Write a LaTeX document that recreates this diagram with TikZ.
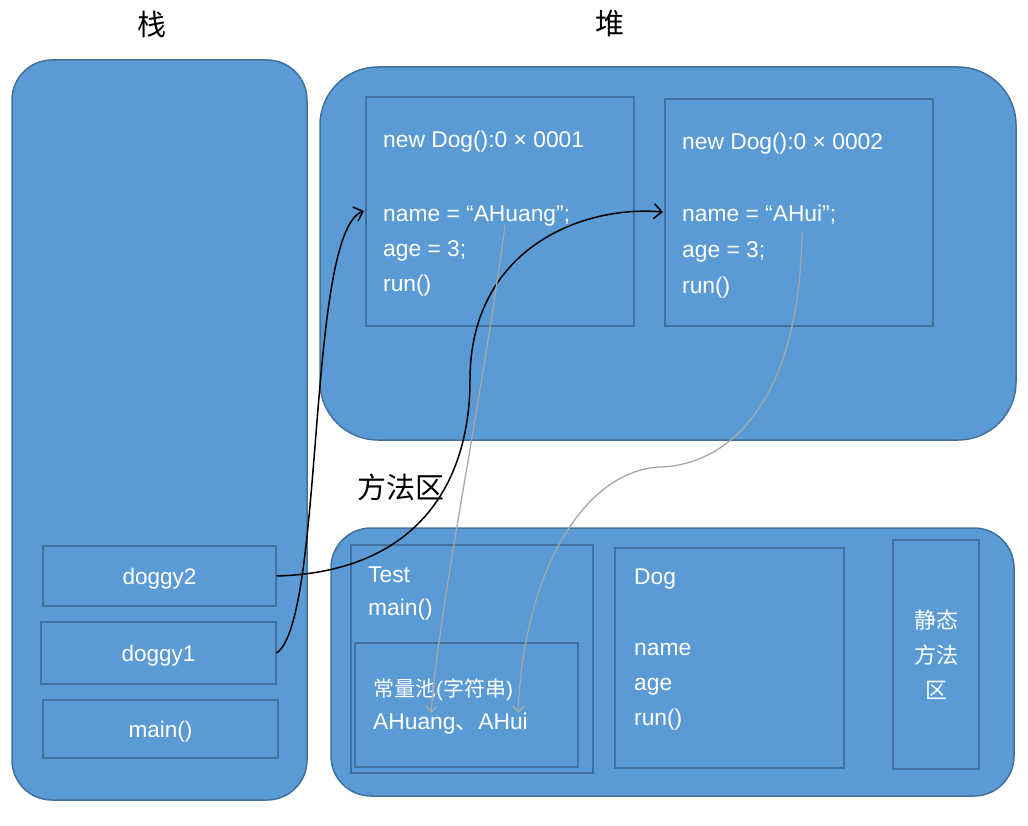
\documentclass[tikz,border=0pt]{standalone}
\usepackage{fontspec}
\setmainfont{Liberation Sans}
\newfontfamily\cjk{Noto Sans CJK SC}
\usetikzlibrary{arrows.meta}
\definecolor{boxblue}{HTML}{5B9BD5}
\definecolor{edgeblue}{HTML}{41719C}
\definecolor{strgray}{HTML}{A6A6A6}
\tikzset{
  region/.style={fill=boxblue, draw=edgeblue, line width=1.5pt, inner sep=0pt},
  cell/.style={fill=boxblue, draw=edgeblue, line width=1.2pt, inner sep=0pt, text=white,
    text depth=0pt, font=\fontsize{22.5}{27}\selectfont},
  txt/.style={text=white, font=\fontsize{22.8}{27}\selectfont, anchor=base west, inner sep=0pt},
  cjktxt/.style={text=white, font=\cjk\fontsize{21}{27}\selectfont, anchor=base west, inner sep=0pt},
  title/.style={text=black, font=\cjk\fontsize{29}{32}\selectfont, inner sep=0pt},
  objref/.style={black, line width=1.5pt, -{Straight Barb[length=8pt,width=15pt,line width=1.5pt]}},
  strref/.style={strgray, line width=1.3pt, -{Straight Barb[length=6pt,width=11pt,line width=1.3pt]}},
}
\begin{document}
\begin{tikzpicture}[x=1pt,y=-1pt]
\useasboundingbox (0,0) rectangle (1028,826);
% titles
\node[title] (tstack) at (152,24) {栈};
\node[title] (theap) at (610,24) {堆};
\node[title] (tmeth) at (401,487) {方法区};
% regions
\node[region, rounded corners=40pt, minimum width=295pt, minimum height=740pt] (stack) at (159.5,430) {};
\node[region, rounded corners=58pt, minimum width=696pt, minimum height=373pt] (heap) at (668,253.5) {};
\node[region, rounded corners=40pt, minimum width=683pt, minimum height=268pt] (meth) at (672.5,662) {};
% stack cells
\node[cell, minimum width=233pt, minimum height=60pt] (doggy2) at (159.5,576) {doggy2};
\node[cell, minimum width=235pt, minimum height=62pt] (doggy1) at (158.5,653) {doggy1};
\node[cell, minimum width=235pt, minimum height=58pt] (mainc) at (160.5,729) {main()};
% heap objects
\node[cell, minimum width=268pt, minimum height=229pt] (obj1) at (500,211.5) {};
\node[cell, minimum width=268pt, minimum height=227pt] (obj2) at (799,212.5) {};
\node[txt] (o1a) at (383,148) {new Dog():0 × 0001};
\node[txt] (o1b) at (383,222) {name = “AHuang”;};
\node[txt] (o1c) at (383,257) {age = 3;};
\node[txt] (o1d) at (383,292) {run()};
\node[txt] (o2a) at (682,150) {new Dog():0 × 0002};
\node[txt] (o2b) at (682,222) {name = “AHui”;};
\node[txt] (o2c) at (682,258) {age = 3;};
\node[txt] (o2d) at (682,294) {run()};
% method area
\node[cell, minimum width=242pt, minimum height=228pt] (test) at (472,659) {};
\node[cell, minimum width=223pt, minimum height=124pt] (pool) at (466.5,705) {};
\node[cell, minimum width=229pt, minimum height=220pt] (dog) at (729.5,658) {};
\node[cell, minimum width=86pt, minimum height=229pt] (static) at (936,654.5) {};
\node[txt] (ta) at (368,582) {Test};
\node[txt] (tb) at (368,615) {main()};
\node[cjktxt] (pa) at (373,696) {常量池{\fontspec{Liberation Sans}(}字符串{\fontspec{Liberation Sans})}};
\node[txt] (pb) at (373,729) {AHuang{\cjk 、}AHui};
\node[txt] (da) at (634,584) {Dog};
\node[txt] (db) at (634,655) {name};
\node[txt] (dc) at (634,690) {age};
\node[txt] (dd) at (634,725) {run()};
\node[text=white, font=\cjk\fontsize{22}{35}\selectfont, align=center, inner sep=0pt] (st) at (936,655) {静态\\方法\\区};
% references
\coordinate (e1) at (364,211);
\coordinate (e2) at (663,212);
\draw[objref] (doggy1.east) .. controls (325,620) and (306,232) .. (e1);
\draw[objref] (doggy2.east) .. controls (420,572) and (470,480) .. (470,380) .. controls (470,250) and (580,205) .. (e2);
\coordinate (s1) at (505,225);
\coordinate (s2) at (802,232);
\coordinate (m1) at (660,467);
\coordinate (f1) at (431,713);
\coordinate (f2) at (518,713);
\draw[strref] (s1) .. controls (482,400) and (440,600) .. (f1);
\draw[strref] (s2) .. controls (800,400) and (730,465) .. (m1) .. controls (590,470) and (525,560) .. (f2);
\end{tikzpicture}
\end{document}
